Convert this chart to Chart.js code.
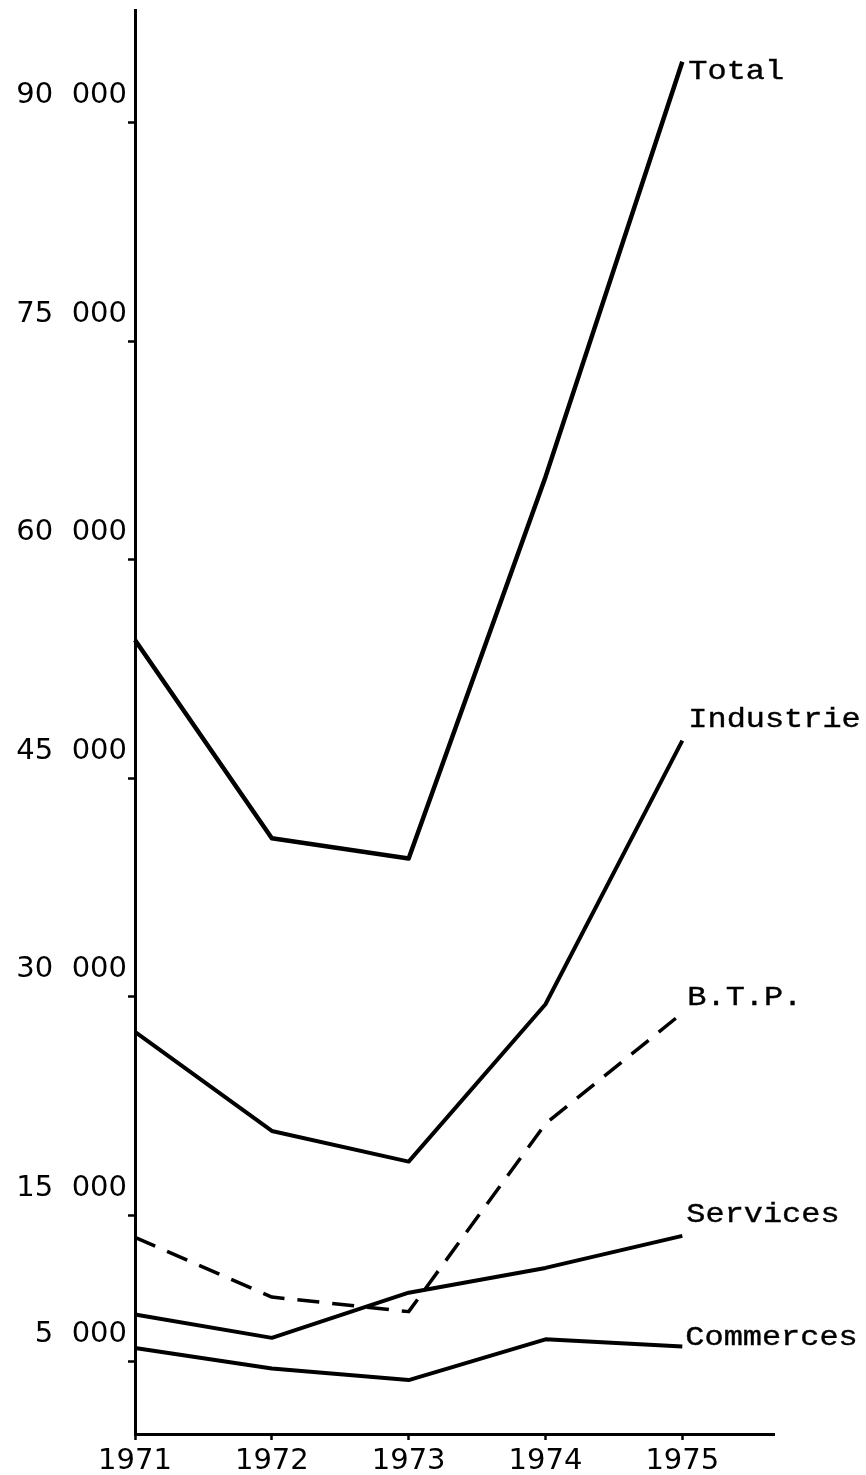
<!DOCTYPE html>
<html>
<head>
<meta charset="utf-8">
<script src="https://cdn.jsdelivr.net/npm/chart.js@4/dist/chart.umd.min.js"></script>
<style>
  html, body { margin: 0; padding: 0; background: #fff; }
  #wrap { width: 866px; height: 1475px; }
</style>
</head>
<body>
<div id="wrap"><canvas id="chart" width="866" height="1475"></canvas></div>
<script>
'use strict';
// years on the x axis
const YEARS = [1971, 1972, 1973, 1974, 1975];
const Y_TICKS = [5000, 15000, 30000, 45000, 60000, 75000, 90000];

const TOTAL = [54500, 40900, 39500, 65700, 94200];
const INDUSTRIE = [27600, 20800, 18700, 29500, 47600];
const BTP = [13500, 9400, 8400, 21300, 28900];
const SERVICES = [8200, 6600, 9700, 11400, 13600];
const COMMERCES = [5900, 4500, 3700, 6500, 6000];

const SERIES = [
  { name: 'Total', values: TOTAL, width: 4.5, dash: [] },
  { name: 'Industrie', values: INDUSTRIE, width: 4, dash: [] },
  { name: 'B.T.P.', values: BTP, width: 3.5, dash: [22, 13] },
  { name: 'Services', values: SERVICES, width: 4, dash: [] },
  { name: 'Commerces', values: COMMERCES, width: 4, dash: [] },
];

// where each end label sits relative to the last point (px)
const LABEL_OFFSET = {
  'Total': [6, 10], 'Industrie': [6, -21], 'B.T.P.': [5, -15],
  'Services': [4, -21], 'Commerces': [3, -9],
};

const endLabels = {
  id: 'endLabels',
  afterDatasetsDraw(chart) {
    const ctx = chart.ctx;
    chart.data.datasets.forEach((ds, i) => {
      const pts = chart.getDatasetMeta(i).data;
      const p = pts[pts.length - 1];
      const o = LABEL_OFFSET[ds.label];
      ctx.save();
      ctx.font = '28px "Liberation Mono", monospace';
      ctx.fillStyle = '#000'; ctx.strokeStyle = '#000'; ctx.lineWidth = 0.4;
      ctx.textBaseline = 'middle';
      ctx.translate(p.x + o[0], p.y + o[1]);
      ctx.scale(1.14, 1);
      ctx.fillText(ds.label, 0, 0);
      ctx.strokeText(ds.label, 0, 0);
      ctx.restore();
    });
  },
};

const datasets = SERIES.map((s) => ({
  label: s.name,
  data: YEARS.map((y, i) => ({ x: y, y: s.values[i] })),
  borderColor: '#000', borderWidth: s.width, borderDash: s.dash,
  pointRadius: 0, fill: false, tension: 0, clip: false,
  borderJoinStyle: 'round', borderCapStyle: 'butt',
}));

new Chart(document.getElementById('chart'), {
  type: 'line',
  data: { datasets },
  plugins: [endLabels],
  options: {
    responsive: false, animation: false, devicePixelRatio: 1,
    layout: { padding: { top: 10, right: 92, bottom: 0, left: 0 } },
    plugins: { legend: { display: false }, tooltip: { enabled: false } },
    scales: {
      x: {
        type: 'linear', min: 1971, max: 1975.67,
        afterFit: (s) => { s.height = 41; s.paddingLeft = 0; s.paddingRight = 0; },
        afterBuildTicks: (s) => { s.ticks = YEARS.map((v) => ({ value: v })); },
        border: { color: '#000', width: 3 },
        grid: { drawOnChartArea: false, drawTicks: true, tickLength: 6,
          tickWidth: 2.5, tickColor: '#000' },
        ticks: { color: '#000', padding: 4, maxRotation: 0, autoSkip: false,
          font: { family: 'DejaVu Sans', size: 29 },
          callback: (v) => String(v) },
      },
      y: {
        type: 'linear', min: 0, max: 97750,
        afterFit: (s) => { s.width = 135; s.paddingTop = 0; s.paddingBottom = 0; },
        afterBuildTicks: (s) => { s.ticks = Y_TICKS.map((v) => ({ value: v })); },
        border: { color: '#000', width: 3 },
        grid: { drawOnChartArea: false, drawTicks: true, tickLength: 7,
          tickWidth: 2.5, tickColor: '#000' },
        ticks: { color: '#000', padding: 1, labelOffset: -27, autoSkip: false,
          font: { family: 'DejaVu Sans', size: 29 },
          callback: (v) => Math.round(v / 1000) + '  000' },
      },
    },
  },
});
</script>
</body>
</html>
